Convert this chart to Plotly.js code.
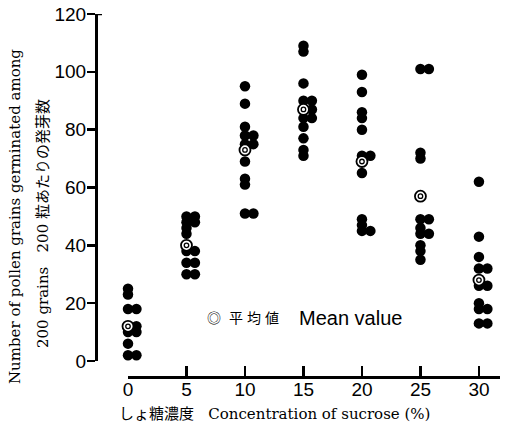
<!DOCTYPE html>
<html>
<head>
<meta charset="utf-8">
<script src="https://cdn.plot.ly/plotly-3.0.1.min.js"></script>
<style>html,body{margin:0;padding:0;background:#fff;}#chart{width:508px;height:431px;}</style>
</head>
<body>
<div id="chart"></div>
<script>
// Sucrose concentrations (%)
const concentrations = [0, 5, 10, 15, 20, 25, 30];
const tickLabelsX = ["0", "5", "10", "15", "20", "25", "30"];
const tickValsY = [0, 20, 40, 60, 80, 100, 120];

// Germinated pollen grains (per 200 grains), one array per concentration
const sucrose0  = [25, 23, 18, 18, 12, 12, 12, 10, 10, 6, 2, 2];
const sucrose5  = [50, 50, 48, 48, 46, 44, 40, 38, 38, 34, 34, 30, 30];
const sucrose10 = [95, 89, 81, 78, 78, 75, 75, 69, 63, 61, 51, 51];
const sucrose15 = [109, 107, 96, 90, 90, 87, 87, 84, 84, 81, 77, 73, 71];
const sucrose20 = [99, 93, 86, 84, 80, 71, 71, 65, 49, 47, 45, 45];
const sucrose25 = [101, 101, 72, 70, 49, 49, 46, 44, 44, 40, 38, 35];
const sucrose30 = [62, 43, 36, 32, 32, 26, 26, 20, 18, 18, 13, 13];

// Mean values
const means = [12, 40, 73, 87, 69, 57, 28];

const legendChars = ["平", "均", "値"];

const groups = [sucrose0, sucrose5, sucrose10, sucrose15, sucrose20, sucrose25, sucrose30];

// side-by-side placement of equal values
const OFFSET = 0.72;
const dotX = [], dotY = [];
groups.forEach((vals, i) => {
  const seen = {};
  vals.forEach(v => {
    const k = seen[v] || 0;
    seen[v] = k + 1;
    dotX.push(concentrations[i] + [0, 1, -1, 2][k] * OFFSET);
    dotY.push(v);
  });
});

const ML = 60, MR = 8, MT = 14, MB = 54, W = 508, H = 431;
const PW = W - ML - MR, PH = H - MT - MB;
const px = x => (x - ML) / PW;
const py = y => (H - MB - y) / PH;

const serif = "DejaVu Serif, Liberation Serif, Noto Sans CJK JP, serif";
const sansNarrow = "Liberation Sans Narrow, Liberation Sans, Arial, sans-serif";

const traces = [
  {
    x: dotX, y: dotY, type: "scatter", mode: "markers", cliponaxis: false,
    marker: {size: 10.5, color: "#000", line: {width: 0}}, hoverinfo: "x+y", showlegend: false
  },
  {
    x: concentrations, y: means, type: "scatter", mode: "markers", cliponaxis: false,
    marker: {size: 11, color: "#fff", line: {width: 1.8, color: "#000"}}, showlegend: false
  },
  {
    x: concentrations, y: means, type: "scatter", mode: "markers", cliponaxis: false,
    marker: {size: 4.5, symbol: "circle-open", color: "#000", line: {width: 1.3, color: "#000"}}, showlegend: false
  }
];

const annotations = [
  {text: "Number of pollen grains germinated among", xref: "paper", yref: "paper",
   x: px(15), y: py(217), textangle: -90, showarrow: false, xanchor: "center", yanchor: "middle",
   font: {family: serif, size: 15, color: "#000"}},
  {text: "200 grains&nbsp;&nbsp;&nbsp;200 粒あたりの発芽数", xref: "paper", yref: "paper",
   x: px(43), y: py(224), textangle: -90, showarrow: false, xanchor: "center", yanchor: "middle",
   font: {family: serif, size: 15, color: "#000"}},
  {text: "しょ糖濃度&nbsp;&nbsp;&nbsp;Concentration of sucrose (%)", xref: "paper", yref: "paper",
   x: px(274), y: py(414), showarrow: false, xanchor: "center", yanchor: "middle",
   font: {family: serif, size: 15, color: "#000"}},
  {text: "◎", xref: "paper", yref: "paper", x: px(214), y: py(317), showarrow: false,
   xanchor: "center", yanchor: "middle", font: {family: "Noto Sans CJK JP, DejaVu Sans", size: 14, color: "#000"}},
  {text: "Mean value", xref: "paper", yref: "paper", x: px(350), y: py(318), showarrow: false,
   xanchor: "center", yanchor: "middle", font: {family: "Liberation Sans, Arial", size: 20, color: "#000"}}
];
const legendCharX = [236, 254, 272];
legendChars.forEach((ch, i) => annotations.push({
  text: ch, xref: "paper", yref: "paper", x: px(legendCharX[i]), y: py(317), showarrow: false,
  xanchor: "center", yanchor: "middle", font: {family: "Noto Sans CJK JP", size: 14, color: "#000"}
}));

const layout = {
  width: W, height: H,
  margin: {l: ML, r: MR, t: MT, b: MB, pad: 0},
  paper_bgcolor: "#fff", plot_bgcolor: "rgba(0,0,0,0)",
  showlegend: false,
  xaxis: {
    domain: [px(128), 1], range: [0, 31.8], anchor: "free", position: 0,
    showline: true, linewidth: 2.5, linecolor: "#000",
    ticks: "inside", ticklen: 10, tickwidth: 2.5, tickcolor: "#000",
    tickvals: concentrations, ticktext: tickLabelsX,
    ticklabelstandoff: -5,
    tickfont: {family: sansNarrow, size: 19, color: "#000"},
    showgrid: false, zeroline: false, fixedrange: true
  },
  yaxis: {
    domain: [py(361), 1], range: [0, 120], anchor: "free", position: px(96),
    showline: true, linewidth: 2.5, linecolor: "#000",
    ticks: "outside", ticklen: 8, tickwidth: 2.5, tickcolor: "#000",
    tickvals: tickValsY,
    ticklabelstandoff: -3,
    tickfont: {family: sansNarrow, size: 19, color: "#000"},
    showgrid: false, zeroline: false, fixedrange: true
  },
  shapes: [
    {type: "line", xref: "paper", yref: "y", x0: px(96), x1: px(102), y0: 120, y1: 120,
     line: {color: "#000", width: 2.5}}
  ],
  annotations: annotations
};

Plotly.newPlot("chart", traces, layout, {displayModeBar: false, staticPlot: true});
</script>
</body>
</html>
